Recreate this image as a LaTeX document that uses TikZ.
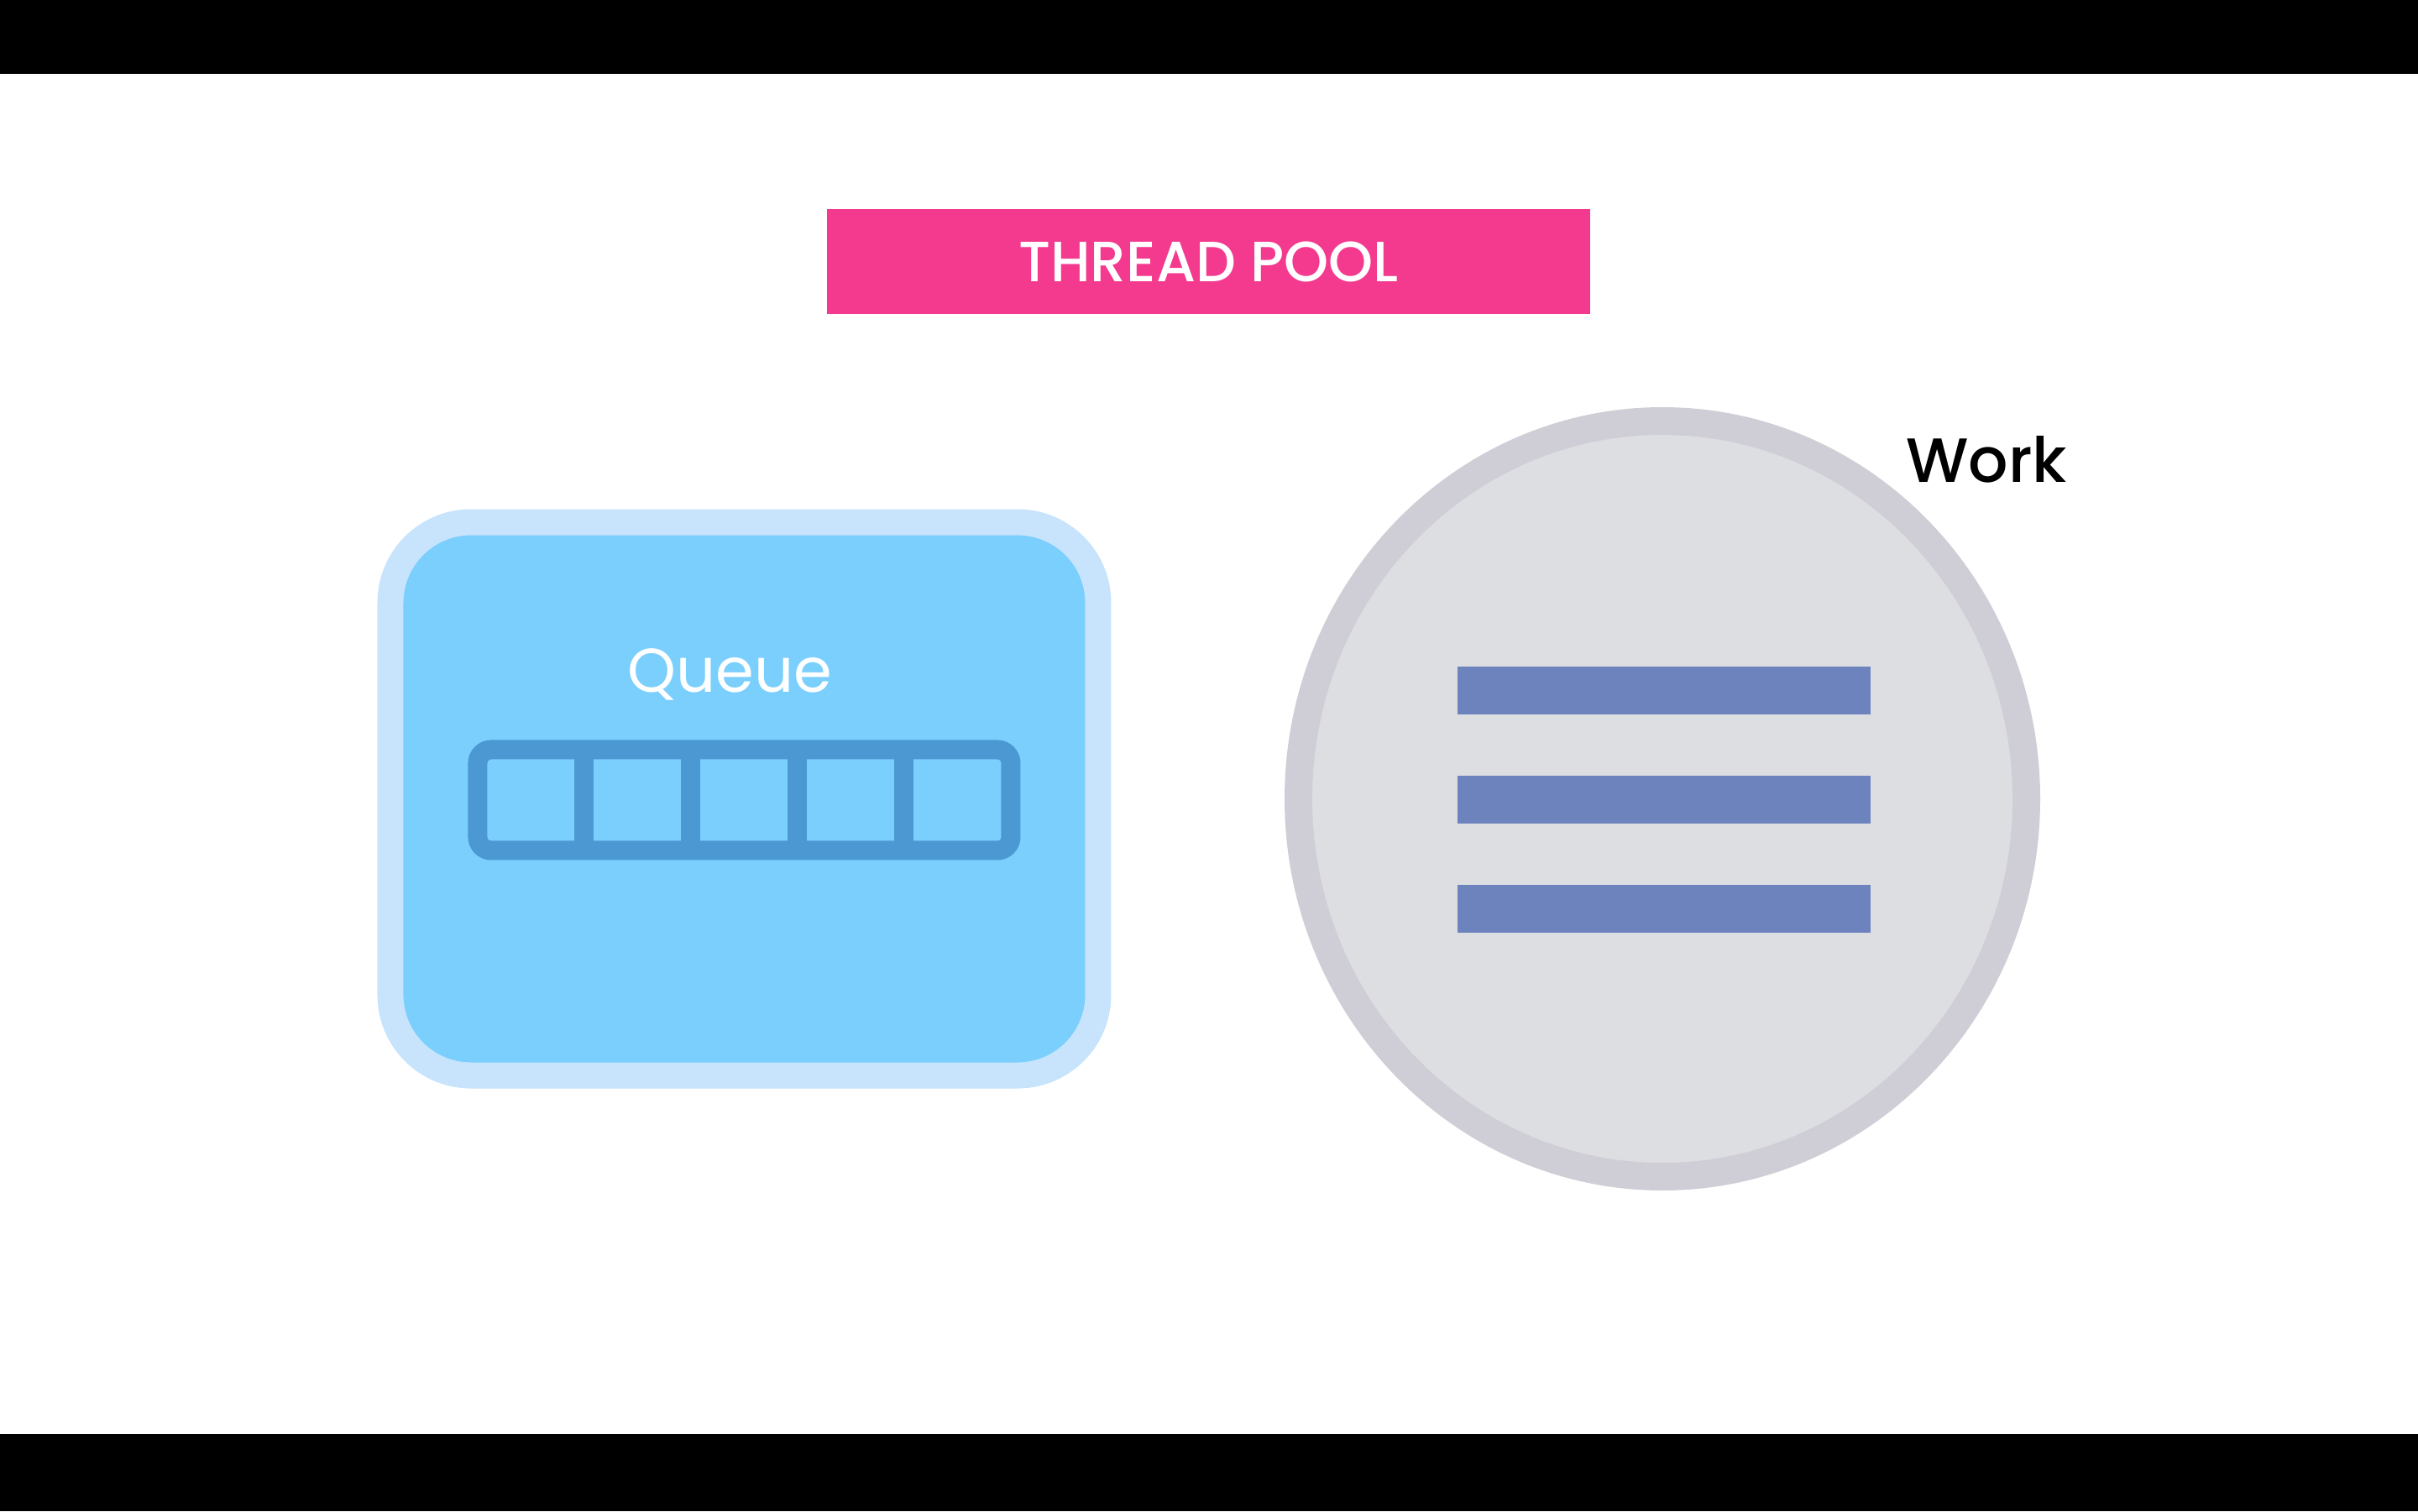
\documentclass[tikz,border=0pt]{standalone}
\usepackage{fontspec}
\setmainfont{Poppins}
\newfontfamily\poppinsmedium{Poppins Medium}
\usetikzlibrary{positioning,shapes.geometric}
\begin{document}
\begin{tikzpicture}[x=1pt,y=1pt,
  titlebox/.style={rectangle,fill=titleColor,text=white,inner sep=0pt,outer sep=0pt,minimum width=227.25pt,minimum height=31.25pt,font=\poppinsmedium\fontsize{16.9}{16.9}\selectfont},
  queuebox/.style={rectangle,rounded corners=24pt,draw=queueEdge,line width=7.75pt,fill=queueFill,inner sep=0pt,outer sep=0pt,minimum width=210.75pt,minimum height=164.75pt},
  cellbox/.style={rectangle,inner sep=0pt,outer sep=0pt,minimum width=31.75pt,minimum height=30pt},
  cellline/.style={draw=cellColor,line width=5.75pt},
  plate/.style={ellipse,draw=plateEdge,line width=8.25pt,fill=plateFill,inner sep=0pt,outer sep=0pt,minimum width=216.75pt,minimum height=225pt},
  barbox/.style={rectangle,fill=barColor,inner sep=0pt,outer sep=0pt,minimum width=123pt,minimum height=14.25pt},
  label/.style={inner sep=0pt,outer sep=0pt,anchor=base,font=\fontsize{18.4}{18.4}\selectfont}]
\definecolor{titleColor}{RGB}{243,58,142}
\definecolor{queueEdge}{RGB}{199,228,252}
\definecolor{queueFill}{RGB}{123,207,253}
\definecolor{cellColor}{RGB}{76,152,210}
\definecolor{plateEdge}{RGB}{207,206,214}
\definecolor{plateFill}{RGB}{221,222,226}
\definecolor{barColor}{RGB}{109,131,190}
\path[use as bounding box,fill=white] (  0.00,  0.00) rectangle (720.00,450.00);

\path[fill=black] (  0.00,428.00) rectangle (720.00,450.00);

\path[fill=black] (  0.00,  0.00) rectangle (720.00, 23.00);

\node[titlebox] (title) at (359.88,372.00) {THREAD POOL};

\node[queuebox] (queue) at (221.62,212.12) {};

\node[label,text=white] (queuelabel) at (217.25,243.75) {Queue};

\node[cellbox] (cell1) at (158.12,211.75) {};
\node[cellbox,right=0pt of cell1] (cell2) {};
\node[cellbox,right=0pt of cell2] (cell3) {};
\node[cellbox,right=0pt of cell3] (cell4) {};
\node[cellbox,right=0pt of cell4] (cell5) {};

\draw[cellline] (cell1.north east) -- (cell1.south east);
\draw[cellline] (cell2.north east) -- (cell2.south east);
\draw[cellline] (cell3.north east) -- (cell3.south east);
\draw[cellline] (cell4.north east) -- (cell4.south east);
\draw[cellline,rounded corners=4pt] (cell1.south west) rectangle (cell5.north east);

\node[plate] (work) at (495.00,212.12) {};

\node[barbox] (bar2) at (495.50,211.90) {};
\node[barbox,above=18.25pt of bar2] (bar1) {};
\node[barbox,below=18.25pt of bar2] (bar3) {};

\node[label,text=black,font=\poppinsmedium\fontsize{18.6}{18.6}\selectfont] (worklabel) at (591.50,306.25) {Work};
\end{tikzpicture}
\end{document}
